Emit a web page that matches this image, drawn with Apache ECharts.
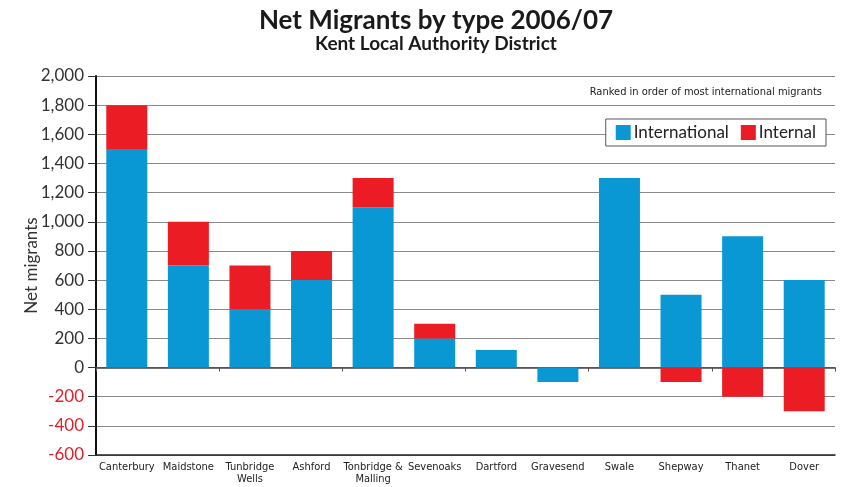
<!DOCTYPE html>
<html>
<head>
<meta charset="utf-8">
<script src="https://cdn.jsdelivr.net/npm/echarts@6/dist/echarts.min.js"></script>
<style>
  html, body { margin: 0; padding: 0; background: #fff; }
  #chart { width: 841px; height: 487px; }
</style>
</head>
<body>
<div id="chart"></div>
<script>
// Districts, ranked by international net migration
const districts = ['Canterbury', 'Maidstone', 'Tunbridge\nWells', 'Ashford', 'Tonbridge &\nMalling',
  'Sevenoaks', 'Dartford', 'Gravesend', 'Swale', 'Shepway', 'Thanet', 'Dover'];
const international = [1500, 700, 400, 600, 1100, 200, 120, -100, 1300, 500, 900, 600];
const internal = [300, 300, 300, 200, 200, 100, 0, 0, 0, -100, -200, -300];
const yTicks = [-600, -400, -200, 0, 200, 400, 600, 800, 1000, 1200, 1400, 1600, 1800, 2000];

const BLUE = '#0a98d4';
const RED = '#ec1c24';
const FONT = 'Lato, "Open Sans", sans-serif';
const NARROW = '"Liberation Sans Narrow", "DejaVu Sans Condensed", Lato, sans-serif';

const chart = echarts.init(document.getElementById('chart'), null, { renderer: 'canvas' });

chart.setOption({
  backgroundColor: '#fff',
  animation: false,
  title: [
    {
      text: 'Net Migrants by type 2006/07',
      subtext: 'Kent Local Authority District',
      left: 431, top: 3, textAlign: 'center',
      itemGap: 0,
      textStyle: { fontFamily: FONT, fontWeight: 'bold', fontSize: 26, color: '#1a1a1a' },
      subtextStyle: { fontFamily: FONT, fontWeight: 'bold', fontSize: 19, color: '#1a1a1a' }
    },
    {
      text: 'Ranked in order of most international migrants',
      right: 14, top: 82,
      textStyle: { fontFamily: NARROW, fontWeight: 'normal', fontSize: 11, color: '#222' }
    }
  ],
  legend: {
    data: ['International', 'Internal'],
    right: 15, top: 119,
    itemWidth: 15, itemHeight: 15, itemGap: 12,
    padding: [5, 10, 5, 10],
    borderColor: '#555', borderWidth: 1,
    backgroundColor: '#fff',
    textStyle: { fontFamily: FONT, fontSize: 17, color: '#222', padding: [0, 0, 0, -2] },
    icon: 'rect'
  },
  grid: { left: 96, right: 6, top: 76, bottom: 32, containLabel: false },
  xAxis: [
    {
      type: 'category',
      data: districts,
      position: 'bottom',
      axisLine: { onZero: false, lineStyle: { color: '#222', width: 1.5 } },
      axisTick: { show: false },
      axisLabel: {
        fontFamily: NARROW, fontSize: 11, color: '#222', interval: 0,
        margin: 6, lineHeight: 12
      },
      splitLine: { show: false }
    },
    {
      // zero baseline with boundary ticks
      type: 'category',
      data: districts,
      position: 'top',
      axisLine: { onZero: true, lineStyle: { color: '#444', width: 1.5 } },
      axisTick: { show: true, inside: true, length: 4, lineStyle: { color: '#555' } },
      axisLabel: { show: false },
      splitLine: { show: false }
    }
  ],
  yAxis: {
    type: 'value',
    min: yTicks[0], max: yTicks[yTicks.length - 1], interval: 200,
    name: 'Net migrants',
    nameLocation: 'middle', nameGap: 56, nameRotate: 90,
    nameMoveOverlap: false,
    nameTextStyle: { fontFamily: FONT, fontSize: 17, color: '#333' },
    axisLine: { show: true, lineStyle: { color: '#111', width: 2 } },
    axisTick: { show: true, length: 8, lineStyle: { color: '#333' } },
    axisLabel: {
      fontFamily: FONT, fontSize: 17, color: '#333', margin: 12,
      formatter: v => {
        const s = v.toLocaleString('en-GB');
        return v < 0 ? '{neg|' + s + '}' : s;
      },
      rich: { neg: { fontFamily: FONT, fontSize: 17, color: '#e0202a' } }
    },
    splitLine: { show: true, lineStyle: { color: '#8a8a8a', width: 1.2 } }
  },
  series: [
    {
      name: 'International', type: 'bar', stack: 'net',
      data: international, barWidth: 41,
      itemStyle: { color: BLUE }
    },
    {
      name: 'Internal', type: 'bar', stack: 'net',
      data: internal, barWidth: 41,
      itemStyle: { color: RED }
    }
  ]
});
</script>
</body>
</html>
